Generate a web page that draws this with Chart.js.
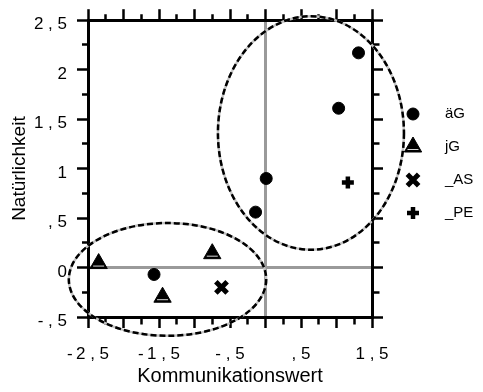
<!DOCTYPE html>
<html>
<head>
<meta charset="utf-8">
<script src="https://cdn.jsdelivr.net/npm/chart.js@4.4.0/dist/chart.umd.min.js"></script>
<style>
  html, body { margin: 0; padding: 0; background: #fff; }
  canvas { display: block; }
</style>
</head>
<body>
<canvas id="chart" width="483" height="392"></canvas>
<script>
// --- Daten ---
const seriesNames = ['äG', 'jG', '_AS', '_PE'];
const agX = [1.31, 1.03, 0.01, -0.14, -1.57];
const agY = [2.17, 1.61, 0.90, 0.56, -0.07];
const jgX = [-2.35, -1.45, -0.75];
const jgY = [0.04, -0.30, 0.14];
const asX = [-0.62];
const asY = [-0.20];
const peX = [1.16];
const peY = [0.86];

const xTickValues = [-2.5, -1.5, -0.5, 0.5, 1.5];
const xTickTexts = ['-\u20092 , 5', '-\u20091 , 5', '- , 5', ', 5', '1 , 5'];
const yTickValues = [2.5, 2, 1.5, 1, 0.5, 0, -0.5];
const yTickTexts = ['2 , 5', '2', '1 , 5', '1', ', 5', '0', '- , 5'];

// Ellipsen: Mittelpunkt und Halbachsen in Datenwerten
const ellipseCx = [0.64, -1.38];
const ellipseCy = [1.36, -0.12];
const ellipseRx = [1.31, 1.39];
const ellipseRy = [1.18, 0.57];

const fontFamily = '"Liberation Sans", Arial, sans-serif';

function toPoints(xs, ys) {
    return xs.map((x, i) => ({ x: x, y: ys[i] }));
}

function isMajor(v) {
    return Math.abs(v * 2 - Math.round(v * 2)) < 1e-6;
}

function labelFor(values, texts) {
    return v => {
        const idx = values.findIndex(t => Math.abs(t - v) < 1e-6);
        return idx >= 0 ? texts[idx] : '';
    };
}

// kurze Zwischenstriche über das Strichmuster
function tickDash(startsOutside) {
    return ctx => {
        const v = ctx.tick ? ctx.tick.value : 0.5;
        if (isMajor(v)) return [];
        return startsOutside ? [0, 5, 100] : [5.5, 100];
    };
}

function zeroLine(ctx) {
    return ctx.tick && Math.abs(ctx.tick.value) < 1e-6 ? '#9a9a9a' : 'rgba(0,0,0,0)';
}

function axis(position, min, max, size, extra) {
    const horizontal = position === 'top' || position === 'bottom';
    const startsOutside = position === 'top' || position === 'left';
    const onChart = position === 'bottom' || position === 'left';
    return Object.assign({
        type: 'linear',
        position: position,
        min: min,
        max: max,
        afterFit: s => { if (horizontal) s.height = size; else s.width = size; },
        ticks: { display: false, stepSize: 0.25, autoSkip: false, maxRotation: 0 },
        grid: {
            drawOnChartArea: onChart,
            color: zeroLine,
            lineWidth: 3,
            tickLength: 11,
            tickColor: '#000',
            tickWidth: 2.5,
            tickBorderDash: tickDash(startsOutside)
        },
        border: { color: '#000', width: 3 }
    }, extra);
}

// heller Strich im Dreieck (wie im Original)
function triangleStripe(ctx, px, py, r) {
    ctx.save();
    ctx.beginPath();
    ctx.moveTo(px - r * 0.55, py + r * 0.5 - 2.5);
    ctx.lineTo(px + r * 0.55, py + r * 0.5 - 2.5);
    ctx.lineWidth = 1;
    ctx.strokeStyle = '#d8d8d8';
    ctx.stroke();
    ctx.restore();
}

const stripePlugin = {
    id: 'stripes',
    afterDatasetsDraw(chart) {
        chart.data.datasets.forEach((ds, i) => {
            if (ds.pointStyle !== 'triangle') return;
            chart.getDatasetMeta(i).data.forEach(el => {
                triangleStripe(chart.ctx, el.x, el.y, ds.pointRadius);
            });
        });
    }
};

const ellipsePlugin = {
    id: 'ellipses',
    afterDraw(chart) {
        const { ctx, scales: { x, y } } = chart;
        ellipseCx.forEach((cx, i) => {
            const px = x.getPixelForValue(cx);
            const py = y.getPixelForValue(ellipseCy[i]);
            const rx = Math.abs(x.getPixelForValue(cx + ellipseRx[i]) - px);
            const ry = Math.abs(y.getPixelForValue(ellipseCy[i] + ellipseRy[i]) - py);
            ctx.save();
            ctx.beginPath();
            ctx.ellipse(px, py, rx, ry, 0, 0, Math.PI * 2);
            ctx.lineWidth = 2.5;
            ctx.strokeStyle = '#c4c4c4';
            ctx.stroke();
            ctx.setLineDash([6, 3]);
            ctx.strokeStyle = '#000';
            ctx.stroke();
            ctx.restore();
        });
    }
};

const legendPlugin = {
    id: 'sideLegend',
    afterDraw(chart) {
        const ctx = chart.ctx;
        chart.data.datasets.forEach((ds, i) => {
            const rowY = 114 + i * 33;
            ctx.save();
            ctx.fillStyle = '#000';
            ctx.strokeStyle = '#000';
            ctx.lineWidth = ds.pointBorderWidth;
            if (Chart.helpers && Chart.helpers.drawPoint) {
                Chart.helpers.drawPoint(ctx, {
                    pointStyle: ds.pointStyle, radius: ds.pointRadius,
                    borderWidth: ds.pointBorderWidth, rotation: 0
                }, 413, rowY);
                if (ds.pointStyle === 'triangle') triangleStripe(ctx, 413, rowY, ds.pointRadius);
            }
            ctx.font = '15px ' + fontFamily;
            ctx.textBaseline = 'middle';
            ctx.textAlign = 'left';
            ctx.fillText(ds.label, 445, rowY);
            ctx.restore();
        });
    }
};

function series(i, xs, ys, style, radius, bw) {
    return {
        label: seriesNames[i],
        data: toPoints(xs, ys),
        pointStyle: style,
        pointRadius: radius,
        pointHoverRadius: radius,
        pointBorderWidth: bw,
        backgroundColor: '#000',
        borderColor: '#000',
        showLine: false
    };
}

new Chart(document.getElementById('chart').getContext('2d'), {
    type: 'scatter',
    data: {
        datasets: [
            series(0, agX, agY, 'circle', 6, 1),
            series(1, jgX, jgY, 'triangle', 10, 1),
            series(2, asX, asY, 'crossRot', 8, 5),
            series(3, peX, peY, 'cross', 6, 4.5)
        ]
    },
    options: {
        responsive: false,
        animation: false,
        layout: { padding: 0 },
        plugins: { legend: { display: false }, tooltip: { enabled: false } },
        scales: {
            x: axis('bottom', -2.5, 1.5, 75, {
                ticks: {
                    stepSize: 0.25, autoSkip: false, maxRotation: 0, minRotation: 0,
                    padding: 16, color: '#000',
                    font: { family: fontFamily, size: 17 },
                    callback: labelFor(xTickValues, xTickTexts)
                },
                title: {
                    display: true, text: 'Kommunikationswert', color: '#000',
                    font: { family: fontFamily, size: 20 },
                    padding: { top: 0, bottom: 4 }
                }
            }),
            y: axis('left', -0.5, 2.5, 88, {
                ticks: {
                    stepSize: 0.25, autoSkip: false, padding: 10, labelOffset: 4.5,
                    color: '#000',
                    font: { family: fontFamily, size: 17 },
                    callback: labelFor(yTickValues, yTickTexts)
                },
                title: {
                    display: true, text: 'Natürlichkeit', color: '#000',
                    font: { family: fontFamily, size: 19 },
                    padding: { top: 8, bottom: 0 }
                }
            }),
            x2: axis('top', -2.5, 1.5, 20, {}),
            y2: axis('right', -0.5, 2.5, 111, {})
        }
    },
    plugins: [stripePlugin, ellipsePlugin, legendPlugin]
});
</script>
</body>
</html>
